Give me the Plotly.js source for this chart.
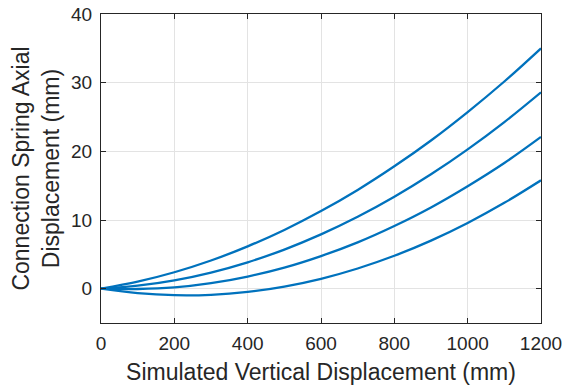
<!DOCTYPE html>
<html>
<head>
<meta charset="utf-8">
<script src="https://cdn.plot.ly/plotly-3.0.1.min.js"></script>
<style>html,body{margin:0;padding:0;background:#fff;}#chart{width:571px;height:387px;}</style>
</head>
<body>
<div id="chart"></div>
<script>
const xValues = [0, 100, 200, 300, 400, 500, 600, 700, 800, 900, 1000, 1100, 1200];
const curve1 = [0, 1.02, 2.39, 4.1, 6.16, 8.55, 11.3, 14.38, 17.82, 21.58, 25.72, 30.17, 35.0];
const curve2 = [0, 0.43, 1.21, 2.35, 3.84, 5.69, 7.9, 10.46, 13.38, 16.65, 20.28, 24.26, 28.6];
const curve3 = [0, -0.05, 0.18, 0.8, 1.77, 3.07, 4.75, 6.75, 9.13, 11.83, 14.92, 18.3, 22.1];
const curve4 = [0, -0.65, -0.95, -0.89, -0.47, 0.31, 1.44, 2.94, 4.79, 7.0, 9.57, 12.5, 15.78];
const xTicks = [0, 200, 400, 600, 800, 1000, 1200];
const yTicks = [0, 10, 20, 30, 40];

const lineStyle = {color: '#0072BD', width: 2.3, shape: 'spline', smoothing: 1};
const traces = [curve1, curve2, curve3, curve4].map(y => ({
  x: xValues, y: y, type: 'scatter', mode: 'lines', line: lineStyle, showlegend: false, hoverinfo: 'skip'
}));

const fontFam = 'Liberation Sans, Arial, sans-serif';
const axisCommon = {
  showline: true, linecolor: '#262626', linewidth: 1, mirror: 'ticks',
  ticks: 'inside', ticklen: 5, tickcolor: '#262626', tickwidth: 1,
  showgrid: true, gridcolor: '#e3e3e3', gridwidth: 1, zeroline: false,
  tickfont: {family: fontFam, size: 19, color: '#262626'}
};

const layout = {
  width: 571, height: 387,
  margin: {l: 101, r: 30, t: 14, b: 64},
  paper_bgcolor: '#ffffff', plot_bgcolor: '#ffffff',
  xaxis: Object.assign({}, axisCommon, {
    range: [0, 1200], tickvals: xTicks, ticktext: xTicks.map(String),
    ticklabelstandoff: 3,
    title: {text: 'Simulated Vertical Displacement (mm)', standoff: 11,
      font: {family: fontFam, size: 23, color: '#262626'}}
  }),
  yaxis: Object.assign({}, axisCommon, {
    range: [-5, 40], tickvals: yTicks, ticktext: yTicks.map(String),
    ticklabelstandoff: 4,
    title: {text: 'Connection Spring Axial<br>Displacement (mm)', standoff: 5,
      font: {family: fontFam, size: 23, color: '#262626'}}
  })
};

Plotly.newPlot('chart', traces, layout, {staticPlot: true, displayModeBar: false});
</script>
</body>
</html>
